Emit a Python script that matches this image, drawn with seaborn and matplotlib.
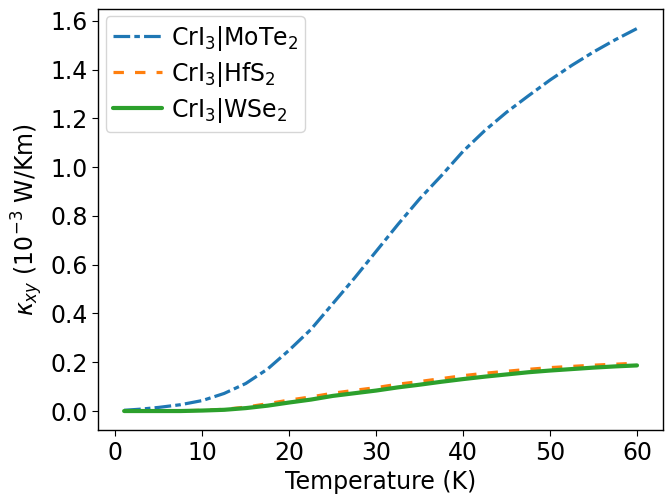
import numpy as np
import pandas as pd
import seaborn as sns
import matplotlib
matplotlib.use("Agg")
import matplotlib.pyplot as plt

# temperature grid (K)
temperature = [1, 3, 5, 7.5, 10, 12.5, 15, 17.5, 20, 22.5, 25, 27.5, 30,
               32.5, 35, 37.5, 40, 42.5, 45, 47.5, 50, 52.5, 55, 57.5, 60]

# kappa_xy in 1e-3 W/Km
kxy_mote2 = [0.003, 0.008, 0.015, 0.026, 0.043, 0.072, 0.113, 0.172, 0.25,
             0.335, 0.44, 0.545, 0.655, 0.765, 0.87, 0.965, 1.065, 1.15,
             1.225, 1.292, 1.357, 1.417, 1.472, 1.522, 1.568]
kxy_hfs2 = [0.0, 0.0, 0.0, 0.001, 0.003, 0.007, 0.016, 0.03, 0.045, 0.058,
            0.073, 0.085, 0.096, 0.11, 0.121, 0.133, 0.145, 0.155, 0.163,
            0.171, 0.178, 0.183, 0.188, 0.192, 0.196]
kxy_wse2 = [0.0, 0.0, 0.0, 0.0, 0.002, 0.005, 0.012, 0.022, 0.035, 0.047,
            0.062, 0.073, 0.084, 0.097, 0.108, 0.12, 0.131, 0.141, 0.15,
            0.159, 0.166, 0.172, 0.178, 0.183, 0.187]

labels = [r"CrI$_3$|MoTe$_2$", r"CrI$_3$|HfS$_2$", r"CrI$_3$|WSe$_2$"]
series = [kxy_mote2, kxy_hfs2, kxy_wse2]
colors = ["#1f77b4", "#ff7f0e", "#2ca02c"]
dash_patterns = [(12, 3, 4, 3), (7.5, 8), None]
widths = [2.3, 2.3, 3.0]

black = {"axes.edgecolor": "black", "text.color": "black",
         "xtick.color": "black", "ytick.color": "black",
         "axes.labelcolor": "black"}
sns.set_style("ticks", black)
plt.rcParams["font.family"] = ["DejaVu Sans"]
plt.rcParams["mathtext.fontset"] = "dejavusans"
plt.rcParams["lines.scale_dashes"] = False

fig, ax = plt.subplots(figsize=(6.7, 4.95), dpi=100)
handles = []
for lab, vals, col, dp, lw in zip(labels, series, colors, dash_patterns, widths):
    df = pd.DataFrame({"T": temperature, "k": vals})
    sns.lineplot(data=df, x="T", y="k", ax=ax, color=col, linewidth=lw,
                 label=lab)
    line = ax.lines[-1]
    if dp is not None:
        line.set_dashes(dp)
    handles.append(line)

ax.set_xlabel("Temperature (K)", fontsize=17)
ax.set_ylabel(r"$\kappa_{xy}$ ($10^{-3}$ W/Km)", fontsize=17)
ax.tick_params(labelsize=17, direction="out", length=4, color="black")
ax.set_yticks(np.arange(0, 1.61, 0.2))
ax.set_xticks(np.arange(0, 61, 10))
for s in ax.spines.values():
    s.set_visible(True)
    s.set_color("black")
    s.set_linewidth(1.0)

leg = ax.legend(handles=handles, labels=labels, loc="upper left",
                fontsize=17, handlelength=2.1, borderpad=0.3,
                labelspacing=0.3, handletextpad=0.35, borderaxespad=0.3,
                frameon=True, fancybox=True)
leg.get_frame().set_edgecolor("#cccccc")

fig.subplots_adjust(left=0.147, right=0.989, top=0.981, bottom=0.131)
fig.savefig("out.png", dpi=100)
